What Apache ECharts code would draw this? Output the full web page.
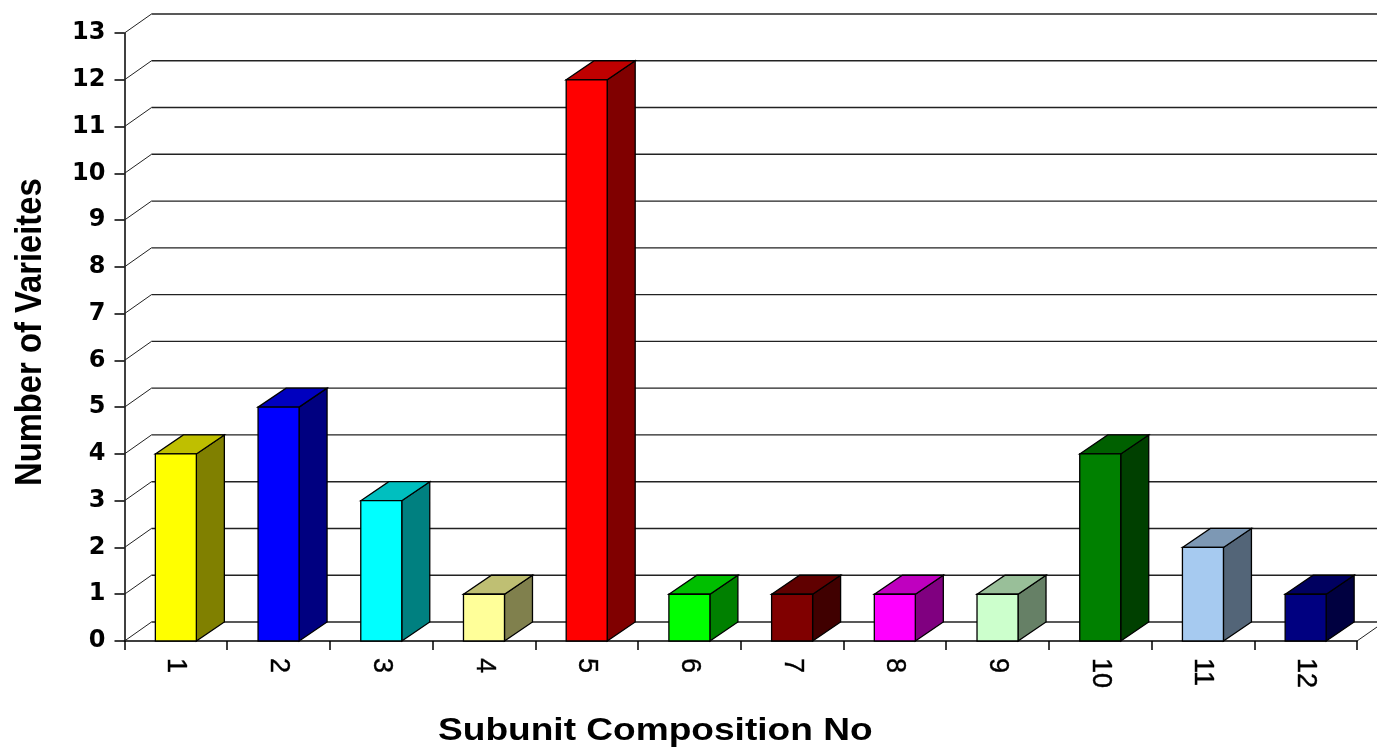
<!DOCTYPE html>
<html>
<head>
<meta charset="utf-8">
<style>html,body{margin:0;padding:0;background:#fff}#c{width:1377px;height:748px}</style>
<script src="https://cdn.jsdelivr.net/npm/echarts@6/dist/echarts.min.js"></script>
</head>
<body>
<div id="c"></div>
<script>
const categories = ['1','2','3','4','5','6','7','8','9','10','11','12'];
const varieties = [4,5,3,1,12,1,1,1,1,4,2,1];
const barColors = ['#FFFF00','#0000FF','#00FFFF','#FFFF99','#FF0000','#00FF00','#800000','#FF00FF','#CCFFCC','#008000','#A6CAF0','#000080'];
const yTicks = [0,1,2,3,4,5,6,7,8,9,10,11,12,13];
const xTitle = 'Subunit Composition No';
const yTitle = 'Number of Varieites';

const DX = 28, DY = -19, BAR_W = 41;
const shade = (hex, k) => {
  const n = parseInt(hex.slice(1), 16);
  const c = s => Math.round(((n >> s) & 255) * k);
  return `rgb(${c(16)},${c(8)},${c(0)})`;
};
const edge = {stroke:'#000', lineWidth:1.3};
const chart = echarts.init(document.getElementById('c'), null, {renderer:'canvas'});
chart.setOption({
  animation:false,
  backgroundColor:'#fff',
  grid:{left:124.5, top:33, width:1232.5, height:608, containLabel:false},
  xAxis:{
    type:'category', data:categories,
    axisLine:{lineStyle:{color:'#000',width:1.5}},
    axisTick:{show:true, length:9, alignWithLabel:false, lineStyle:{color:'#000',width:1.5}},
    axisLabel:{rotate:-90, margin:17, interval:0, color:'#000', fontFamily:'Liberation Sans', fontSize:27, textBorderColor:'#000', textBorderWidth:0.4},
    splitLine:{show:false}
  },
  yAxis:{
    type:'value', min:0, max:13, interval:1,
    axisLine:{show:true, lineStyle:{color:'#000',width:1.5}},
    axisTick:{show:true, length:10, lineStyle:{color:'#000',width:1.5}},
    axisLabel:{margin:19, padding:[2,0,0,0], color:'#000', fontFamily:'DejaVu Sans', fontSize:24, fontWeight:'bold'},
    splitLine:{show:false}
  },
  graphic:[
    {type:'text', x:438, y:716, scaleX:1.236, scaleY:1.05, style:{text:xTitle, fill:'#000', font:'bold 30px "Liberation Sans"'}},
    {type:'text', x:31, y:486, rotation:Math.PI/2, scaleX:0.91, style:{text:yTitle, fill:'#000', font:'bold 36px "Liberation Sans"', align:'left', verticalAlign:'middle'}}
  ],
  series:[
    {
      type:'custom', coordinateSystem:'cartesian2d', z:1, silent:true,
      data:yTicks.map(v=>[0,v]),
      encode:{x:0,y:1},
      renderItem(params, api){
        const y = api.coord([0, api.value(1)])[1];
        const x0 = params.coordSys.x, x1 = x0 + params.coordSys.width;
        const ln = (a,b,c,d,w) => ({type:'line', shape:{x1:a,y1:b,x2:c,y2:d}, style:{stroke:'#222', lineWidth:w, fill:null}});
        const children = [
          ln(x0, y, x0+27, y+DY, 1),
          ln(x0+27, y+DY, api.getWidth(), y+DY, 1.4)
        ];
        if (api.value(1) === 0) children.push(ln(x1, y, x1+20, y-14, 1));
        return {type:'group', children};
      }
    },
    {
      type:'custom', coordinateSystem:'cartesian2d', z:2, silent:true,
      data:varieties.map((v,i)=>[i,v]),
      encode:{x:0,y:1},
      renderItem(params, api){
        const i = api.value(0);
        const top = api.coord([i, api.value(1)]);
        const base = api.coord([i, 0]);
        const l = top[0]-BAR_W/2, r = top[0]+BAR_W/2, t = top[1], b = base[1];
        const col = barColors[params.dataIndex];
        const poly = (pts, fill) => ({type:'polygon', shape:{points:pts}, style:{fill, ...edge}});
        return {type:'group', children:[
          poly([[r,t],[r+DX,t+DY],[r+DX,b+DY],[r,b]], shade(col,.5)),
          poly([[l,t],[l+DX,t+DY],[r+DX,t+DY],[r,t]], shade(col,.75)),
          poly([[l,t],[r,t],[r,b],[l,b]], col)
        ]};
      }
    }
  ]
});
</script>
</body>
</html>
